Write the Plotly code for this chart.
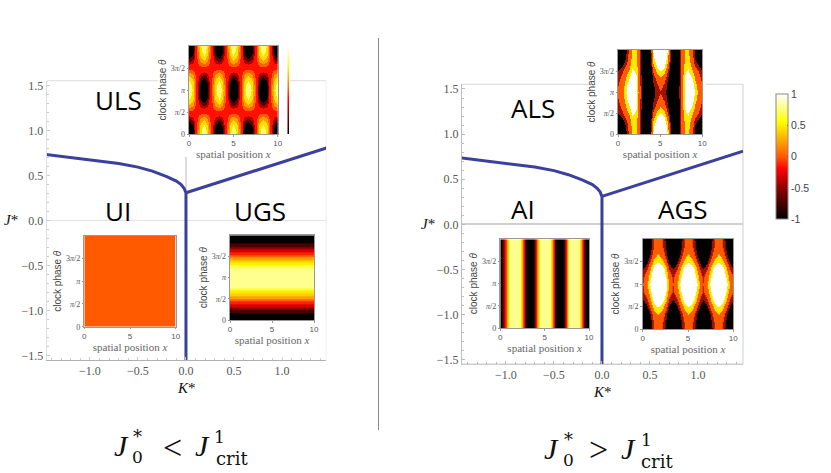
import plotly.graph_objects as go

W, H = 831, 473

# ---------- phase boundary ----------
CURVE_K = [-1.46, -1.2, -0.9, -0.7, -0.5, -0.35, -0.2, -0.1, -0.05, -0.02, 0.0]
CURVE_J = [0.735, 0.70, 0.665, 0.635, 0.595, 0.55, 0.49, 0.44, 0.40, 0.36, 0.31]
RIGHT_K = [0.0, 1.47]
RIGHT_J = [0.31, 0.81]
VERT_K = [0.0, 0.0]
VERT_J = [0.31, -1.55]
MAIN_TICKS = [-1.5, -1.0, -0.5, 0.0, 0.5, 1.0, 1.5]

# ---------- inset grids ----------
X25 = [0, .417, .833, 1.25, 1.667, 2.083, 2.5, 2.917, 3.333, 3.75, 4.167, 4.583, 5,
       5.417, 5.833, 6.25, 6.667, 7.083, 7.5, 7.917, 8.333, 8.75, 9.167, 9.583, 10]
THETA13 = [0, .5236, 1.0472, 1.5708, 2.0944, 2.618, 3.1416, 3.6652, 4.1888, 4.7124, 5.236, 5.7596, 6.2832]

U0 = [-1,-.72,-.05,.62,.9,.62,-.05,-.72,-1,-.72,-.05,.62,.9,.62,-.05,-.72,-1,-.72,-.05,.62,.9,.62,-.05,-.72,-1]
U1 = [-.88,-.63,-.05,.53,.78,.53,-.05,-.63,-.88,-.63,-.05,.53,.78,.53,-.05,-.63,-.88,-.63,-.05,.53,.78,.53,-.05,-.63,-.88]
U2 = [-.52,-.38,-.05,.28,.43,.28,-.05,-.38,-.52,-.38,-.05,.28,.43,.28,-.05,-.38,-.52,-.38,-.05,.28,.43,.28,-.05,-.38,-.52]
U3 = [-.05,-.05,-.05,-.05,-.05,-.05,-.05,-.05,-.05,-.05,-.05,-.05,-.05,-.05,-.05,-.05,-.05,-.05,-.05,-.05,-.05,-.05,-.05,-.05,-.05]
U4 = [.43,.28,-.05,-.38,-.52,-.38,-.05,.28,.43,.28,-.05,-.38,-.52,-.38,-.05,.28,.43,.28,-.05,-.38,-.52,-.38,-.05,.28,.43]
U5 = [.78,.53,-.05,-.63,-.88,-.63,-.05,.53,.78,.53,-.05,-.63,-.88,-.63,-.05,.53,.78,.53,-.05,-.63,-.88,-.63,-.05,.53,.78]
U6 = [.9,.62,-.05,-.72,-1,-.72,-.05,.62,.9,.62,-.05,-.72,-1,-.72,-.05,.62,.9,.62,-.05,-.72,-1,-.72,-.05,.62,.9]
ULS_Z = [U0, U1, U2, U3, U4, U5, U6, U5, U4, U3, U2, U1, U0]

UI_Z = [[0.0, 0.0], [0.0, 0.0]]
UI_X = [0, 10]
UI_Y = [0, 6.2832]

UGS_X = [0, 10]
UGS_Y = [0, .2618, .5236, .7854, 1.0472, 1.309, 1.5708, 1.8326, 2.0944, 2.3562, 2.618, 2.8798, 3.1416,
         3.4034, 3.6652, 3.927, 4.1888, 4.4506, 4.7124, 4.9742, 5.236, 5.4978, 5.7596, 6.0214, 6.2832]
UGS_PROFILE = [-1, -.97, -.87, -.71, -.5, -.26, 0, .26, .5, .71, .87, .97, 1,
               .97, .87, .71, .5, .26, 0, -.26, -.5, -.71, -.87, -.97, -1]
UGS_Z = [[v, v] for v in UGS_PROFILE]

A0 = [-.9,-.8,-.5,0,.35,.35,-.05,-.8,-1,-.4,.65,1.1,1.1,1.1,.65,-.4,-1,-.8,-.05,.35,.35,0,-.5,-.8,-.9]
A1 = [-.8,-.7,-.45,.05,.4,.38,-.05,-.8,-1,-.5,.5,1.05,1.05,1.05,.5,-.5,-1,-.8,-.05,.38,.4,.05,-.45,-.7,-.8]
A2 = [-.6,-.45,-.2,.15,.5,.42,-.05,-.8,-1,-.6,.3,.75,.9,.75,.3,-.6,-1,-.8,-.05,.42,.5,.15,-.2,-.45,-.6]
A3 = [-.35,-.15,.1,.35,.65,.55,-.02,-.75,-1,-.7,-.05,.45,.6,.45,-.05,-.7,-1,-.75,-.02,.55,.65,.35,.1,-.15,-.35]
A4 = [-.2,0,.25,.6,.8,.65,.02,-.65,-1,-.75,-.25,.05,.25,.05,-.25,-.75,-1,-.65,.02,.65,.8,.6,.25,0,-.2]
A5 = [-.1,.1,.4,.8,.95,.72,.05,-.55,-1,-.75,-.4,-.15,.04,-.15,-.4,-.75,-1,-.55,.05,.72,.95,.8,.4,.1,-.1]
A6 = [-.05,.15,.5,.95,1,.75,.08,-.5,-1,-.75,-.45,-.2,-.15,-.2,-.45,-.75,-1,-.5,.08,.75,1,.95,.5,.15,-.05]
ALS_Z = [A0, A1, A2, A3, A4, A5, A6, A5, A4, A3, A2, A1, A0]

AI_X = [0, .208, .417, .625, .833, 1.042, 1.25, 1.458, 1.667, 1.875, 2.083, 2.292, 2.5, 2.708, 2.917, 3.125,
        3.333, 3.542, 3.75, 3.958, 4.167, 4.375, 4.583, 4.792, 5, 5.208, 5.417, 5.625, 5.833, 6.042, 6.25, 6.458,
        6.667, 6.875, 7.083, 7.292, 7.5, 7.708, 7.917, 8.125, 8.333, 8.542, 8.75, 8.958, 9.167, 9.375, 9.583, 9.792, 10]
AI_PROFILE = [-.75, -.55, -.35, -.1, .15, .45, .71, .92, 1, .92, .71, .38, 0, -.38, -.71, -.92,
              -1, -.92, -.71, -.38, 0, .38, .71, .92, 1, .92, .71, .38, 0, -.38, -.71, -.92,
              -1, -.92, -.71, -.38, 0, .38, .71, .92, 1, .92, .71, .38, 0, -.38, -.71, -.92, -1]
AI_Y = [0, 6.2832]
AI_Z = [AI_PROFILE, AI_PROFILE]

G0 = [-1,-.98,-.45,-.08,.05,-.08,-.45,-.98,-1,-.98,-.45,-.08,.05,-.08,-.45,-.98,-1,-.98,-.45,-.08,.05,-.08,-.45,-.98,-1]
G1 = [-1,-.91,-.4,-.02,.12,-.02,-.4,-.91,-1,-.91,-.4,-.02,.12,-.02,-.4,-.91,-1,-.91,-.4,-.02,.12,-.02,-.4,-.91,-1]
G2 = [-.89,-.72,-.25,.14,.31,.14,-.25,-.72,-.89,-.72,-.25,.14,.31,.14,-.25,-.72,-.89,-.72,-.25,.14,.31,.14,-.25,-.72,-.89]
G3 = [-.62,-.42,.05,.45,.6,.45,.05,-.42,-.62,-.42,.05,.45,.6,.45,.05,-.42,-.62,-.42,.05,.45,.6,.45,.05,-.42,-.62]
G4 = [-.35,-.12,.4,.8,.9,.8,.4,-.12,-.35,-.12,.4,.8,.9,.8,.4,-.12,-.35,-.12,.4,.8,.9,.8,.4,-.12,-.35]
G5 = [-.155,.12,.6,.95,1,.95,.6,.12,-.155,.12,.6,.95,1,.95,.6,.12,-.155,.12,.6,.95,1,.95,.6,.12,-.155]
G6 = [-.085,.25,.75,1,1,1,.75,.25,-.085,.25,.75,1,1,1,.75,.25,-.085,.25,.75,1,1,1,.75,.25,-.085]
AGS_Z = [G0, G1, G2, G3, G4, G5, G6, G5, G4, G3, G2, G1, G0]

STRIP_Y = [-1, -.5, 0, .5, 1]
STRIP_Z = [[-1, -1], [-.5, -.5], [0, 0], [.5, .5], [1, 1]]

HOT = [[0, "#000000"], [.25, "#900000"], [.4, "#ff0000"], [.5, "#ff5a00"], [.775, "#ffff00"], [1, "#ffffff"]]


def stepped(edges, colors):
    out = []
    for i, c in enumerate(colors):
        out += [[(edges[i] + 1) / 2, c], [(edges[i + 1] + 1) / 2, c]]
    return out


BANDS11 = ["#000000", "#4a0000", "#8f0000", "#d40000", "#ff2000", "#ff6000", "#ffa000", "#ffd000",
           "#ffee00", "#ffff40", "#ffff90"]
SCALE8 = stepped([-1, -.62, -.46, -.3, .05, .25, .45, .68, 1],
                 ["#000000", "#5a0000", "#b00000", "#ff1000", "#ff6000", "#ffa000", "#ffe000", "#ffff70"])
SCALE11 = stepped([-1, -.85, -.68, -.5, -.32, -.14, .04, .22, .4, .58, .72, 1], BANDS11)
SCALE_AI = stepped([-1, -.64, -.52, -.4, -.28, -.16, -.04, .08, .2, .32, .45, 1], BANDS11)
SCALE5 = stepped([-1, -.35, -.1, .3, .6, 1],
                 ["#000000", "#a01000", "#ff5a00", "#ffe800", "#ffffff"])


def dx(a, b):
    return [a / W, b / W]


def dy(top, bottom):
    return [1 - bottom / H, 1 - top / H]


fig = go.Figure()
LINE = dict(color="#3b3f9e", width=3)
layout = {}

SERIF = "Liberation Serif"
SANS = "Liberation Sans"


def main_axes(n, xd, yd, xr, yr, line_x, line_y, tick):
    s = "" if n == 1 else str(n)
    layout["xaxis" + s] = dict(domain=dx(*xd), range=xr, anchor="y" + s, tickvals=[-1, -.5, 0, .5, 1],
                               ticktext=["\u22121.0", "\u22120.5", "0.0", "0.5", "1.0"],
                               ticks="inside", ticklen=3, tickcolor=tick, showgrid=False, zeroline=False,
                               showline=True, linecolor=line_x, linewidth=1,
                               tickfont=dict(family=SERIF, size=12, color="#555555"),
                               minor=dict(dtick=.1, ticks="inside", ticklen=2, tickcolor=tick))
    layout["yaxis" + s] = dict(domain=dy(*yd), range=yr, anchor="x" + s, tickvals=MAIN_TICKS,
                               ticktext=["\u22121.5", "\u22121.0", "\u22120.5", "0.0", "0.5", "1.0", "1.5"],
                               ticks="inside", ticklen=3, tickcolor=tick, showgrid=False, zeroline=True,
                               zerolinecolor="#e2e2e2" if n == 1 else "#d0d0d0", zerolinewidth=1 if n == 1 else 1.5,
                               showline=True, linecolor=line_y, linewidth=1,
                               tickfont=dict(family=SERIF, size=12, color="#555555"),
                               minor=dict(dtick=.1, ticks="inside", ticklen=2, tickcolor=tick))
    for kx, jy in ((CURVE_K, CURVE_J), (RIGHT_K, RIGHT_J), (VERT_K, VERT_J)):
        fig.add_trace(go.Scatter(x=kx, y=jy, mode="lines", line=LINE, xaxis="x" + ("" if n == 1 else s),
                                 yaxis="y" + ("" if n == 1 else s), showlegend=False, hoverinfo="skip"))


main_axes(1, (46.7, 326), (80.7, 360), [-1.45, 1.458], [-1.548, 1.555], "#b0b0b0", "#dddddd", "#cccccc")
main_axes(2, (462, 743), (84.3, 364), [-1.458, 1.469], [-1.548, 1.552], "#cccccc", "#bdbdbd", "#bbbbbb")


def inset(n, xd, yd, x, y, z, scale, title_std=1, ystd=2, **extra):
    s = str(n)
    fig.add_trace(go.Heatmap(x=x, y=y, z=z, zmin=-1, zmax=1, colorscale=scale, zsmooth="best",
                             xaxis="x" + s, yaxis="y" + s, hoverinfo="skip", **extra))
    layout["xaxis" + s] = dict(domain=dx(*xd), range=[0, 10], anchor="y" + s, tickvals=[0, 5, 10],
                               ticks="outside", ticklen=1.5, tickcolor="#999999", showgrid=False, zeroline=False,
                               showline=True, linecolor="#999999", mirror=True, linewidth=1,
                               tickfont=dict(family=SANS, size=8, color="#555555"),
                               title=dict(text="spatial position <i>x</i>", standoff=title_std,
                                          font=dict(family=SERIF, size=11, color="#666666")))
    layout["yaxis" + s] = dict(domain=dy(*yd), range=[0, 6.2832], anchor="x" + s,
                               tickvals=[0, 1.5708, 3.1416, 4.7124],
                               ticktext=["0", "<i>\u03c0</i>/2", "<i>\u03c0</i>", "3<i>\u03c0</i>/2"],
                               ticks="outside", ticklen=1.5, tickcolor="#999999", showgrid=False, zeroline=False,
                               showline=True, linecolor="#999999", mirror=True, linewidth=1,
                               tickfont=dict(family=SERIF, size=8, color="#555555"),
                               title=dict(text="clock phase <i>\u03b8</i>", standoff=ystd,
                                          font=dict(family=SANS, size=10, color="#444444")))


inset(3, (189, 277.7), (46, 134), X25, THETA13, ULS_Z, SCALE8, showscale=False)
inset(4, (84.3, 175.7), (235.7, 326.7), UI_X, UI_Y, UI_Z, HOT, showscale=True,
      colorbar=dict(x=776.3 / W, xanchor="left", y=1 - 94.3 / H, yanchor="top", len=125, lenmode="pixels",
                    thickness=12, thicknessmode="pixels", xpad=0, ypad=0, outlinecolor="#888888", outlinewidth=1,
                    tickvals=[-1, -.5, 0, .5, 1], ticktext=["-1", "-0.5", "0", "0.5", "1"],
                    ticks="inside", ticklen=1.5, tickcolor="#555555",
                    tickfont=dict(family=SANS, size=10.5, color="#444444")))
inset(5, (230, 314), (235.3, 320), UGS_X, UGS_Y, UGS_Z, SCALE11, showscale=False)
inset(6, (618, 702.3), (50, 134), X25, THETA13, ALS_Z, SCALE5, showscale=False)
inset(7, (500.3, 589), (239.3, 328), AI_X, AI_Y, AI_Z, SCALE_AI, showscale=False)
inset(8, (642.7, 733.3), (239, 329), X25, THETA13, AGS_Z, SCALE5, showscale=False)

# thin remnant of a colour bar next to the ULS inset
fig.add_trace(go.Heatmap(x=[0, 1], y=STRIP_Y, z=STRIP_Z, zmin=-1, zmax=1, colorscale=HOT, zsmooth="best",
                         xaxis="x9", yaxis="y9", showscale=False, hoverinfo="skip"))
layout["xaxis9"] = dict(domain=dx(287.3, 289), range=[0, 1], anchor="y9", visible=False)
layout["yaxis9"] = dict(domain=dy(46, 134), range=[-1, 1], anchor="x9", visible=False)


def seg(x0, y0, x1, y1, color, width=1):
    return dict(type="line", xref="paper", yref="paper", x0=x0 / W, x1=x1 / W, y0=1 - y0 / H, y1=1 - y1 / H,
                line=dict(color=color, width=width), layer="below")


shapes = [
    seg(46.7, 80.7, 158, 80.7, "#dddddd"), seg(290, 80.7, 326, 80.7, "#dddddd"),
    seg(326, 80.7, 326, 360, "#eeeeee"),
    seg(186, 157, 186, 195, "#b8b8b8"),
    seg(462, 84.3, 590, 84.3, "#d8d8d8"), seg(706, 84.3, 743, 84.3, "#d8d8d8"),
    seg(743, 84.3, 743, 364, "#cfcfcf"),
    seg(462, 364, 743, 364, "#cccccc"),
    seg(378.5, 38, 378.5, 430, "#8a8a8a"),
]


def note(text, x, y, size, family=SERIF, color="#111111", anchor="center"):
    return dict(text=text, x=x / W, y=1 - y / H, xref="paper", yref="paper", showarrow=False, xanchor=anchor,
                yanchor="middle", font=dict(family=family, size=size, color=color))


LABEL = "Open Sans"
DJ = "DejaVu Serif"
notes = [
    note("ULS", 119, 100, 26, LABEL, "#000000"), note("UI", 118, 211, 26, LABEL, "#000000"),
    note("UGS", 260, 211, 26, LABEL, "#000000"),
    note("ALS", 533, 108, 26, LABEL, "#000000"), note("AI", 523, 209, 26, LABEL, "#000000"),
    note("AGS", 683, 209, 26, LABEL, "#000000"),
    note("<i>J</i>*", 11, 220, 15), note("<i>K</i>*", 186, 388, 15),
    note("<i>J</i>*", 428, 224, 15), note("<i>K</i>*", 602, 392, 15),
    # left condition
    note("<i>J</i>", 122, 445, 30), note("*", 137, 436, 18, DJ), note("0", 137, 457, 17, DJ),
    note("<", 172, 447, 34), note("<i>J</i>", 202, 445, 30), note("1", 219, 437, 17, DJ),
    note("crit", 231.5, 458, 18, DJ),
    # right condition
    note("<i>J</i>", 551, 448, 30), note("*", 568, 439, 18, DJ), note("0", 568, 460, 17, DJ),
    note(">", 598, 449, 34), note("<i>J</i>", 628, 448, 30), note("1", 646, 440, 17, DJ),
    note("crit", 656.5, 461, 18, DJ),
]

fig.update_layout(width=W, height=H, margin=dict(l=0, r=0, t=0, b=0, autoexpand=False), paper_bgcolor="white",
                  plot_bgcolor="white", showlegend=False, shapes=shapes, annotations=notes, **layout)
fig.write_html("out.html", config={"displayModeBar": False},
               post_script="document.body.style.margin='0';document.documentElement.style.overflow='hidden';")
